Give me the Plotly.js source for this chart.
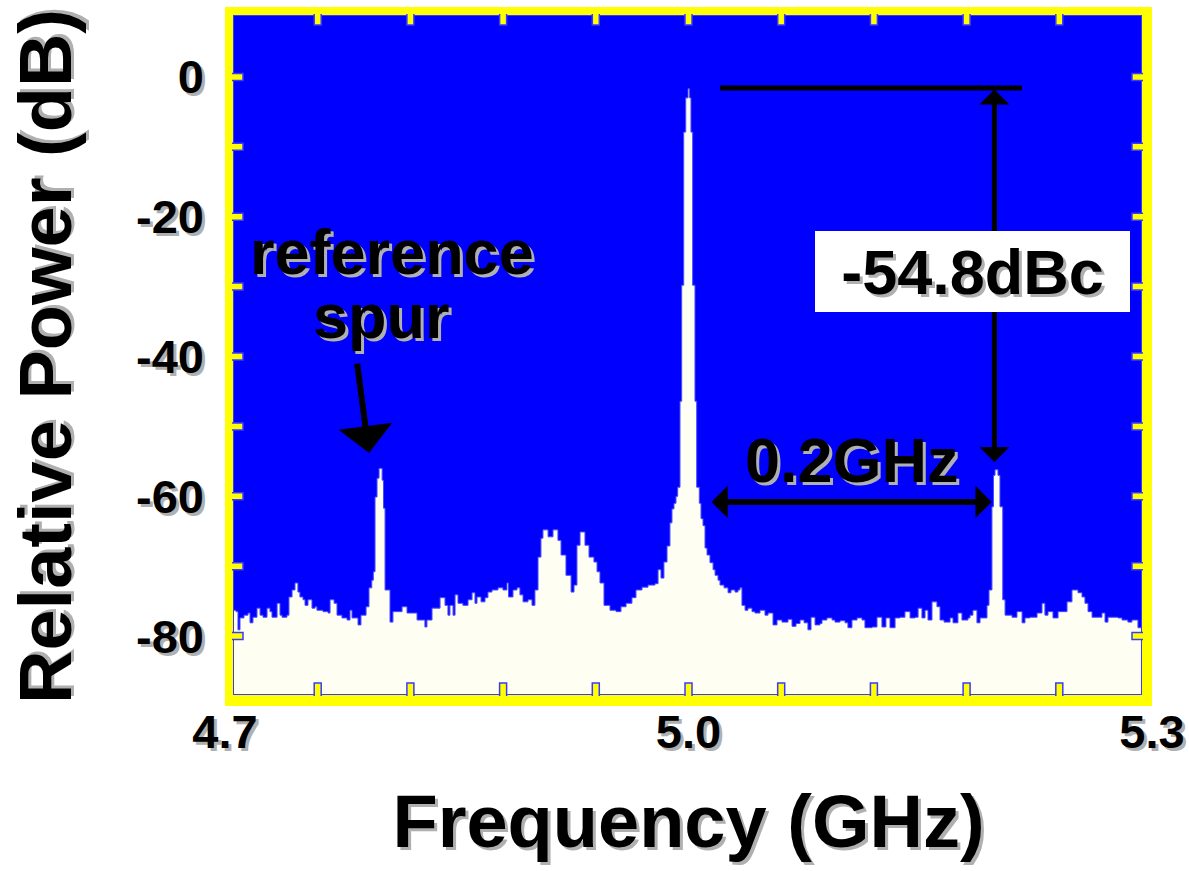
<!DOCTYPE html>
<html><head><meta charset="utf-8">
<script src="https://cdn.plot.ly/plotly-3.0.1.min.js"></script>
<style>html,body{margin:0;padding:0;background:#fff}</style>
</head><body>
<div id="chart" style="width:1189px;height:871px"></div>
<script>
const freqGHz = [
4.7058,4.7071,4.7084,4.7097,4.7123,4.7149,4.7162,4.7181,4.7207,4.7227,4.7246,4.7272,4.7291,4.7304,4.7337,4.7356,4.7369,4.7401,4.7414,4.7434,
4.7453,4.7472,4.7485,4.7505,4.7518,4.7537,4.7563,4.7583,4.7595,4.7634,4.7667,4.7680,4.7706,4.7725,4.7757,4.7790,4.7809,4.7822,4.7861,4.7880,
4.7913,4.7932,4.7950,4.7960,4.7971,4.7984,4.7997,4.8017,4.8026,4.8036,4.8068,4.8087,4.8146,4.8178,4.8243,4.8294,4.8307,4.8340,4.8392,4.8424,
4.8443,4.8456,4.8476,4.8489,4.8508,4.8540,4.8573,4.8599,4.8618,4.8631,4.8657,4.8683,4.8702,4.8728,4.8767,4.8799,4.8825,4.8835,4.8864,4.8890,
4.8909,4.8929,4.8961,4.8987,4.9006,4.9026,4.9045,4.9058,4.9091,4.9123,4.9155,4.9175,4.9207,4.9240,4.9259,4.9278,4.9298,4.9330,4.9356,4.9388,
4.9408,4.9427,4.9453,4.9492,4.9531,4.9563,4.9596,4.9634,4.9660,4.9699,4.9738,4.9783,4.9803,4.9822,4.9841,4.9861,4.9880,4.9893,4.9906,4.9919,
4.9930,4.9945,4.9956,4.9969,4.9982,4.9997,5.0007,5.0016,5.0027,5.0042,5.0053,5.0070,5.0081,5.0094,5.0107,5.0120,5.0139,5.0159,5.0172,5.0191,
5.0204,5.0230,5.0256,5.0275,5.0301,5.0320,5.0333,5.0346,5.0366,5.0385,5.0411,5.0430,5.0463,5.0495,5.0515,5.0547,5.0573,5.0605,5.0644,5.0670,
5.0696,5.0722,5.0748,5.0773,5.0793,5.0819,5.0851,5.0864,5.0896,5.0929,5.0948,5.0981,5.1013,5.1032,5.1058,5.1091,5.1123,5.1142,5.1188,5.1220,
5.1252,5.1278,5.1304,5.1337,5.1369,5.1401,5.1434,5.1466,5.1486,5.1511,5.1531,5.1550,5.1576,5.1608,5.1628,5.1654,5.1693,5.1712,5.1744,5.1770,
5.1809,5.1822,5.1841,5.1867,5.1887,5.1932,5.1945,5.1964,5.1974,5.1984,5.2003,5.2016,5.2034,5.2049,5.2094,5.2126,5.2159,5.2178,5.2210,5.2256,
5.2288,5.2307,5.2327,5.2359,5.2392,5.2450,5.2482,5.2521,5.2547,5.2566,5.2586,5.2612,5.2676,5.2696,5.2715,5.2780,5.2806,5.2844,5.2870,5.2909,
5.2935];
const powerDb = [
-76.3,-76.5,-79.1,-77.4,-77.0,-76.7,-78.1,-77.3,-76.0,-77.0,-77.3,-76.0,-76.5,-77.3,-75.3,-77.0,-77.3,-77.0,-74.4,-73.4,
-72.4,-73.7,-74.4,-74.8,-75.6,-74.8,-76.0,-75.8,-76.3,-76.5,-76.7,-74.8,-75.3,-77.0,-77.4,-77.7,-76.3,-77.4,-78.4,-77.0,
-75.8,-73.1,-72.0,-70.8,-60.1,-57.4,-56.0,-57.7,-61.7,-73.4,-78.0,-76.5,-75.8,-76.7,-77.7,-78.7,-77.7,-76.0,-74.5,-75.6,
-77.0,-75.6,-77.0,-74.1,-75.3,-75.6,-74.8,-73.8,-75.3,-74.4,-75.1,-74.5,-73.7,-73.4,-73.1,-73.4,-72.4,-74.4,-73.4,-73.1,
-74.1,-75.1,-74.8,-75.6,-73.4,-68.7,-66.0,-64.8,-65.8,-64.8,-66.3,-68.4,-71.3,-73.7,-72.7,-67.0,-65.1,-67.0,-68.7,-69.4,
-70.8,-72.4,-75.6,-76.3,-76.5,-75.8,-75.3,-74.5,-73.4,-73.0,-72.7,-72.5,-70.5,-71.7,-69.4,-67.1,-63.8,-61.8,-61.0,-60.0,
-58.7,-46.4,-29.8,-7.9,-3.0,-1.7,-3.0,-7.9,-29.8,-46.4,-58.7,-61.0,-63.2,-64.2,-67.4,-68.4,-69.5,-70.5,-71.3,-72.0,
-72.7,-73.1,-73.8,-73.4,-73.7,-73.4,-73.1,-75.6,-76.3,-76.0,-76.5,-76.7,-76.3,-77.0,-76.7,-78.4,-77.7,-78.0,-77.6,-78.6,
-78.2,-77.7,-78.1,-79.1,-77.3,-78.4,-78.2,-77.7,-77.4,-77.7,-78.0,-77.8,-78.1,-78.8,-77.7,-77.4,-77.7,-78.8,-78.7,-77.3,
-78.7,-77.4,-78.8,-77.4,-77.3,-76.5,-77.4,-77.3,-76.0,-77.4,-76.3,-77.7,-75.1,-75.8,-77.7,-78.0,-77.4,-78.1,-76.7,-77.7,
-77.4,-77.0,-76.3,-78.1,-77.4,-75.6,-73.4,-61.5,-57.0,-56.2,-57.0,-61.5,-74.8,-77.0,-77.3,-76.5,-78.1,-77.4,-77.3,-76.7,
-75.3,-77.0,-76.5,-77.4,-76.5,-75.1,-73.4,-73.8,-74.4,-75.3,-76.5,-77.3,-76.7,-78.0,-77.3,-77.4,-77.7,-78.0,-77.7,-78.8,
-78.8];

const xRange = [4.7, 5.3];
const yRange = [-90, 10];
const xTickVals = [4.7, 5.0, 5.3];
const xTickText = ['4.7', '5.0', '5.3'];
const yTickVals = [0, -20, -40, -60, -80];
const yTickText = ['0', '-20', '-40', '-60', '-80'];
const xDivisions = [4.76, 4.82, 4.88, 4.94, 5.00, 5.06, 5.12, 5.18, 5.24];
const yDivisions = [0, -10, -20, -30, -40, -50, -60, -70, -80];

// marker annotations (data coordinates)
const carrierLevelDb = -1.6;
const spurMarkerDb = -55.1;
const spurMarkerFreq = 5.198;
const spanArrowFreqs = [5.0139, 5.1962];
const spanArrowDb = -60.8;

// ---- styling ----
const FONT = '"Liberation Sans", Arial, Helvetica, sans-serif';
const SHADOW = '3px 3px 0px #b0b0b0';
const YELLOW = '#ffff00';
const EDGE_BLUE = '#3a3aff';
const PW = 927, PH = 699;

const traces = [
  { x: [freqGHz[0], freqGHz[freqGHz.length - 1]], y: [yRange[0], yRange[0]],
    mode: 'lines', line: { width: 0, color: 'rgba(0,0,0,0)' }, hoverinfo: 'skip', showlegend: false },
  { x: freqGHz, y: powerDb, mode: 'lines', line: { shape: 'hv', color: '#4a4aff', width: 1 },
    fill: 'tonexty', fillcolor: '#fefef2', showlegend: false }
];

const shapes = [];
// inner outline of the screen
shapes.push({ type: 'rect', xref: 'paper', yref: 'paper', x0: 8 / PW, x1: 1 - 10 / PW, y0: 11 / PH, y1: 1 - 8 / PH,
  line: { color: EDGE_BLUE, width: 2 }, layer: 'above' });
// yellow bezel
[[0, 8 / PW, 0, 1], [1 - 10 / PW, 1, 0, 1], [0, 1, 0, 11 / PH], [0, 1, 1 - 8 / PH, 1]].forEach(r => {
  shapes.push({ type: 'rect', xref: 'paper', yref: 'paper', x0: r[0], x1: r[1], y0: r[2], y1: r[3],
    fillcolor: YELLOW, line: { width: 0 }, layer: 'above' });
});
// graticule ticks
xDivisions.forEach(v => {
  shapes.push({ type: 'path', xref: 'x', yref: 'paper', xsizemode: 'pixel', ysizemode: 'pixel', xanchor: v, yanchor: 0,
    path: 'M-3.5,10 L-3.5,23 L3.5,23 L3.5,10', fillcolor: YELLOW, line: { color: EDGE_BLUE, width: 1.5 }, layer: 'above' });
  shapes.push({ type: 'path', xref: 'x', yref: 'paper', xsizemode: 'pixel', ysizemode: 'pixel', xanchor: v, yanchor: 1,
    path: 'M-3.5,-7 L-3.5,-18 L3.5,-18 L3.5,-7', fillcolor: YELLOW, line: { color: EDGE_BLUE, width: 1.5 }, layer: 'above' });
});
yDivisions.forEach(v => {
  shapes.push({ type: 'path', xref: 'paper', yref: 'y', xsizemode: 'pixel', ysizemode: 'pixel', xanchor: 0, yanchor: v,
    path: 'M7,-3.5 L18,-3.5 L18,3.5 L7,3.5', fillcolor: YELLOW, line: { color: EDGE_BLUE, width: 1.5 }, layer: 'above' });
  shapes.push({ type: 'path', xref: 'paper', yref: 'y', xsizemode: 'pixel', ysizemode: 'pixel', xanchor: 1, yanchor: v,
    path: 'M-9,-3.5 L-20,-3.5 L-20,3.5 L-9,3.5', fillcolor: YELLOW, line: { color: EDGE_BLUE, width: 1.5 }, layer: 'above' });
});
// carrier reference line
shapes.push({ type: 'line', xref: 'x', yref: 'y', x0: 5.0204, x1: 5.2159, y0: carrierLevelDb, y1: carrierLevelDb,
  line: { color: '#000', width: 5 }, layer: 'above' });

const bigFont = { family: FONT, size: 63, color: '#000', weight: 'bold', shadow: SHADOW };
const annotations = [
  { x: 4.8081, y: -25.0, xref: 'x', yref: 'y', text: 'reference', showarrow: false, font: bigFont },
  { x: 4.8013, y: -34.2, xref: 'x', yref: 'y', text: 'spur', showarrow: false, font: bigFont },
  { x: 4.7932, y: -53.8, ax: 4.7854, ay: -40.8, xref: 'x', yref: 'y', axref: 'x', ayref: 'y', text: '',
    showarrow: true, arrowhead: 1, arrowsize: 1.5, arrowwidth: 6, arrowcolor: '#000' },
  { x: spurMarkerFreq, y: spurMarkerDb, ax: spurMarkerFreq, ay: carrierLevelDb, xref: 'x', yref: 'y', axref: 'x', ayref: 'y',
    text: '', showarrow: true, arrowside: 'end+start', arrowhead: 1, startarrowhead: 1, arrowsize: 1, startarrowsize: 1,
    arrowwidth: 5, arrowcolor: '#000' },
  { x: 5.1838, y: -27.8, xref: 'x', yref: 'y', text: '-54.8dBc', showarrow: false, font: bigFont,
    bgcolor: '#ffffff', width: 315, height: 81, borderpad: 0, borderwidth: 0 },
  { x: 5.1060, y: -54.8, xref: 'x', yref: 'y', text: '0.2GHz', showarrow: false, font: bigFont },
  { x: spanArrowFreqs[1], y: spanArrowDb, ax: spanArrowFreqs[0], ay: spanArrowDb, xref: 'x', yref: 'y', axref: 'x', ayref: 'y',
    text: '', showarrow: true, arrowside: 'end+start', arrowhead: 1, startarrowhead: 1, arrowsize: 0.9, startarrowsize: 0.9,
    arrowwidth: 6, arrowcolor: '#000' }
];

const tickFont = { family: FONT, size: 47, color: '#000', weight: 'bold', shadow: SHADOW };
const titleFont = { family: FONT, size: 74, color: '#000', weight: 'bold', shadow: SHADOW };

const layout = {
  width: 1189, height: 871,
  margin: { l: 225, r: 37, t: 7, b: 165, pad: 0 },
  paper_bgcolor: '#ffffff', plot_bgcolor: '#0000ff',
  showlegend: false,
  xaxis: { range: xRange, tickvals: xTickVals, ticktext: xTickText, ticks: '', ticklabelstandoff: -6,
    showgrid: false, zeroline: false, showline: false, tickfont: tickFont, automargin: false,
    title: { text: 'Frequency (GHz)', font: titleFont, standoff: 38 } },
  yaxis: { range: yRange, tickvals: yTickVals, ticktext: yTickText, ticks: '', ticklabelstandoff: 20,
    showgrid: false, zeroline: false, showline: false, tickfont: tickFont, automargin: false,
    title: { text: 'Relative Power (dB)', font: titleFont, standoff: 40 } },
  shapes: shapes,
  annotations: annotations
};

Plotly.newPlot('chart', traces, layout, { displayModeBar: false, staticPlot: true });
</script>
</body></html>
